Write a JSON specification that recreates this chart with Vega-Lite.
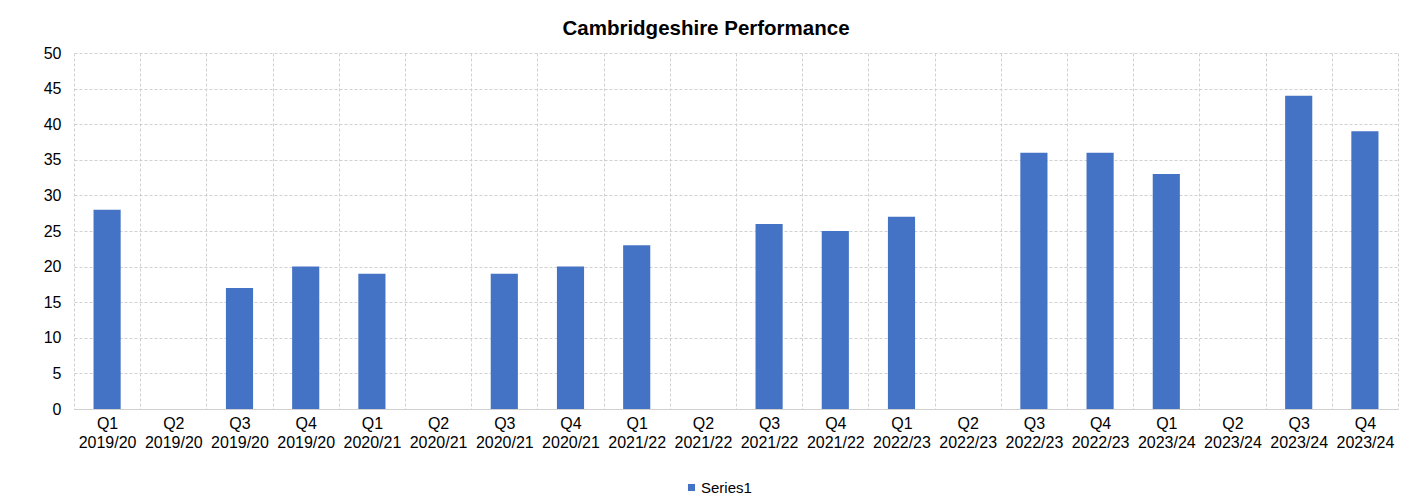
{
  "$schema": "https://vega.github.io/schema/vega-lite/v6.json",
  "width": 1324,
  "height": 356,
  "autosize": {"type": "none"},
  "padding": {"left": 74, "top": 53, "right": 29, "bottom": 94},
  "background": "white",
  "title": {
    "text": "Cambridgeshire Performance",
    "font": "Liberation Sans",
    "fontSize": 20.5,
    "fontWeight": "bold",
    "color": "#000000",
    "anchor": "middle",
    "dx": -30,
    "offset": 6
  },
  "data": {
    "values": [
      {"period": "Q1|2019/20", "value": 28, "series": "Series1"},
      {"period": "Q2|2019/20", "value": null, "series": "Series1"},
      {"period": "Q3|2019/20", "value": 17, "series": "Series1"},
      {"period": "Q4|2019/20", "value": 20, "series": "Series1"},
      {"period": "Q1|2020/21", "value": 19, "series": "Series1"},
      {"period": "Q2|2020/21", "value": null, "series": "Series1"},
      {"period": "Q3|2020/21", "value": 19, "series": "Series1"},
      {"period": "Q4|2020/21", "value": 20, "series": "Series1"},
      {"period": "Q1|2021/22", "value": 23, "series": "Series1"},
      {"period": "Q2|2021/22", "value": null, "series": "Series1"},
      {"period": "Q3|2021/22", "value": 26, "series": "Series1"},
      {"period": "Q4|2021/22", "value": 25, "series": "Series1"},
      {"period": "Q1|2022/23", "value": 27, "series": "Series1"},
      {"period": "Q2|2022/23", "value": null, "series": "Series1"},
      {"period": "Q3|2022/23", "value": 36, "series": "Series1"},
      {"period": "Q4|2022/23", "value": 36, "series": "Series1"},
      {"period": "Q1|2023/24", "value": 33, "series": "Series1"},
      {"period": "Q2|2023/24", "value": null, "series": "Series1"},
      {"period": "Q3|2023/24", "value": 44, "series": "Series1"},
      {"period": "Q4|2023/24", "value": 39, "series": "Series1"}
    ]
  },
  "mark": {"type": "bar", "width": {"band": 0.41}},
  "encoding": {
    "x": {
      "field": "period",
      "type": "nominal",
      "sort": null,
      "scale": {
        "domain": ["Q1|2019/20", "Q2|2019/20", "Q3|2019/20", "Q4|2019/20", "Q1|2020/21", "Q2|2020/21", "Q3|2020/21", "Q4|2020/21", "Q1|2021/22", "Q2|2021/22", "Q3|2021/22", "Q4|2021/22", "Q1|2022/23", "Q2|2022/23", "Q3|2022/23", "Q4|2022/23", "Q1|2023/24", "Q2|2023/24", "Q3|2023/24", "Q4|2023/24"],
        "paddingInner": 0,
        "paddingOuter": 0
      },
      "axis": {
        "title": null,
        "labelAngle": 0,
        "labelExpr": "split(datum.label, '|')",
        "labelFont": "Liberation Sans",
        "labelFontSize": 16,
        "labelColor": "#000000",
        "labelLineHeight": 19,
        "labelPadding": 6,
        "ticks": false,
        "tickBand": "extent",
        "grid": true,
        "gridColor": "#d0d0d0",
        "gridDash": [3, 2],
        "gridWidth": 1,
        "domain": true,
        "domainColor": "#d0d0d0",
        "domainWidth": 1
      }
    },
    "y": {
      "field": "value",
      "type": "quantitative",
      "scale": {"domain": [0, 50], "nice": false},
      "axis": {
        "title": null,
        "values": [0, 5, 10, 15, 20, 25, 30, 35, 40, 45, 50],
        "labelFont": "Liberation Sans",
        "labelFontSize": 16,
        "labelColor": "#000000",
        "labelPadding": 13,
        "ticks": false,
        "domain": false,
        "grid": true,
        "gridColor": "#d0d0d0",
        "gridDash": [3, 2],
        "gridWidth": 1
      }
    },
    "color": {
      "field": "series",
      "type": "nominal",
      "scale": {"range": ["#4472C4"]},
      "legend": {
        "title": null,
        "orient": "none",
        "legendX": 610,
        "legendY": 427,
        "symbolType": "square",
        "symbolSize": 50,
        "labelFont": "Liberation Sans",
        "labelFontSize": 15,
        "labelColor": "#000000",
        "labelOffset": 2
      }
    }
  },
  "config": {
    "view": {"stroke": null}
  }
}
